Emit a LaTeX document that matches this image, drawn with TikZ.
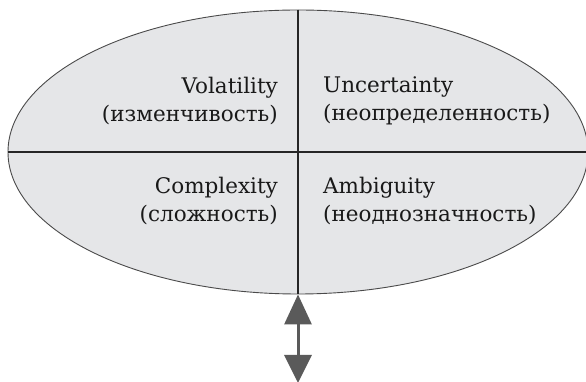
\documentclass[tikz,border=0pt]{standalone}
\usepackage{fontspec}
\setmainfont{DejaVu Serif}
\usetikzlibrary{arrows.meta,shapes.geometric}
\definecolor{ovalfill}{HTML}{E5E6E8}
\definecolor{ovalline}{HTML}{4A4A4A}
\definecolor{arrowgray}{HTML}{5A5A5A}
\begin{document}
\begin{tikzpicture}[x=1pt,y=1pt,
	quad/.style={font=\fontsize{21.5}{28}\selectfont, text=black!90, inner sep=0pt},
	divider/.style={draw=black!85, line width=1.1pt}]
	\useasboundingbox (0,0) rectangle (586,382);
	\node[ellipse, draw=ovalline, line width=0.9pt, fill=ovalfill, minimum width=580pt, minimum height=284pt, inner sep=0pt] (E) at (298,230) {};
	\draw[divider] (E.west) -- (E.east);
	\draw[divider] (E.north) -- (E.south);
	\node[quad, align=right, anchor=east] (V) at (278,281) {Volatility\\(изменчивость)};
	\node[quad, align=left, anchor=west] (U) at (323,281) {Uncertainty\\(неопределенность)};
	\node[quad, align=right, anchor=east] (C) at (278,181) {Complexity\\(сложность)};
	\node[quad, align=left, anchor=west] (A) at (323,181) {Ambiguity\\(неоднозначность)};
	\coordinate (T) at (298,-1);
	\draw[arrowgray, line width=3pt, {Triangle[length=30pt,width=27pt]}-{Triangle[length=28pt,width=27pt]}] (E.south) -- (T);
\end{tikzpicture}
\end{document}
